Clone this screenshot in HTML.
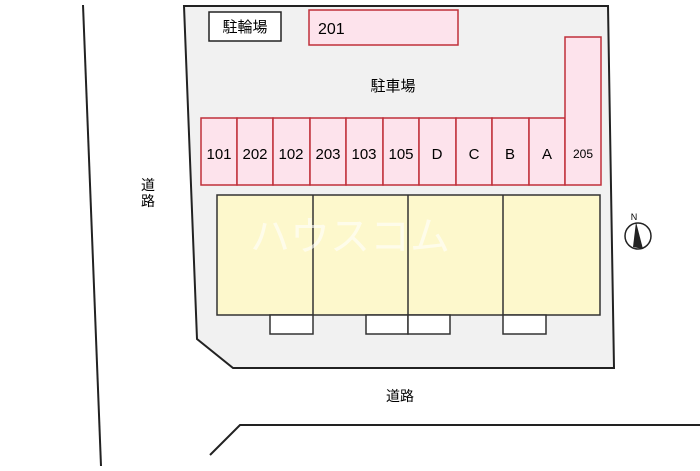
<!DOCTYPE html>
<html><head><meta charset="utf-8"><style>
body{margin:0;width:700px;height:466px;background:#fff;overflow:hidden;font-family:"Liberation Sans","Noto Sans CJK JP",sans-serif}
</style></head><body>
<svg width="700" height="466" xmlns="http://www.w3.org/2000/svg" font-family="Liberation Sans, Noto Sans CJK JP, sans-serif">
<line x1="83" y1="5" x2="101" y2="466" stroke="#222" stroke-width="2"/>
<polyline points="210,455 240,425 700,425" fill="none" stroke="#222" stroke-width="2"/>
<polygon points="184,6 608,6 614,368 233,368 197,339" fill="#f1f1f1" stroke="#222" stroke-width="2"/>
<rect x="209" y="12" width="72" height="29" fill="#fff" stroke="#222" stroke-width="1.5"/>
<text x="245" y="32" font-size="15" text-anchor="middle">駐輪場</text>
<rect x="309" y="10" width="149" height="35" fill="#fde3ec" stroke="#c0303a" stroke-width="1.5"/>
<text x="318" y="34" font-size="16">201</text>
<text x="393" y="91" font-size="15" text-anchor="middle">駐車場</text>
<g fill="#fde3ec" stroke="#c0303a" stroke-width="1.5">
<rect x="201" y="118" width="36" height="67"/><rect x="237" y="118" width="36" height="67"/>
<rect x="273" y="118" width="37" height="67"/><rect x="310" y="118" width="36" height="67"/>
<rect x="346" y="118" width="37" height="67"/><rect x="383" y="118" width="36" height="67"/>
<rect x="419" y="118" width="37" height="67"/><rect x="456" y="118" width="36" height="67"/>
<rect x="492" y="118" width="37" height="67"/><rect x="529" y="118" width="36" height="67"/>
<rect x="565" y="37" width="36" height="148"/>
</g>
<g font-size="15" text-anchor="middle">
<text x="219" y="159">101</text><text x="255" y="159">202</text><text x="291" y="159">102</text>
<text x="328" y="159">203</text><text x="364" y="159">103</text><text x="401" y="159">105</text>
<text x="437" y="159">D</text><text x="474" y="159">C</text><text x="510" y="159">B</text>
<text x="547" y="159">A</text><text x="583" y="158" font-size="12">205</text>
</g>
<rect x="217" y="195" width="383" height="120" fill="#fdf8cc" stroke="#333" stroke-width="1.5"/>
<g stroke="#333" stroke-width="1.5" fill="#fff">
<line x1="313" y1="195" x2="313" y2="315"/><line x1="408" y1="195" x2="408" y2="315"/><line x1="503" y1="195" x2="503" y2="315"/>
<rect x="270" y="315" width="43" height="19"/><rect x="366" y="315" width="42" height="19"/>
<rect x="408" y="315" width="42" height="19"/><rect x="503" y="315" width="43" height="19"/>
</g>
<text x="350" y="250" font-size="40" fill="#fff" opacity="0.6" text-anchor="middle">ハウスコム</text>
<text x="148" y="190" font-size="14" text-anchor="middle">道</text>
<text x="148" y="206" font-size="14" text-anchor="middle">路</text>
<text x="400" y="401" font-size="14" text-anchor="middle">道路</text>
<circle cx="638" cy="236" r="13" fill="#fff" stroke="#222" stroke-width="1.5"/>
<polygon points="636,222 643,249 633,247" fill="#222"/>
<text x="634" y="220" font-size="9" text-anchor="middle">N</text>
</svg>
</body></html>
